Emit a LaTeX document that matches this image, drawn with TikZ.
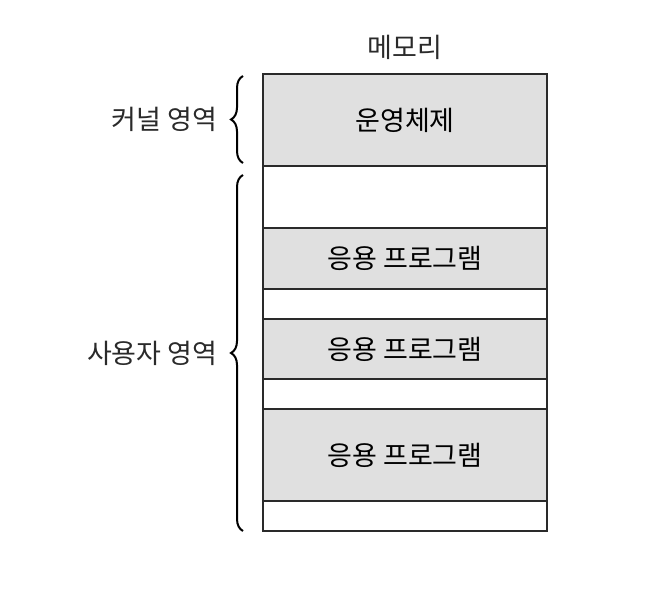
\documentclass[tikz,border=0pt]{standalone}
\usepackage{fontspec}
\setmainfont{Noto Sans CJK KR}
\usetikzlibrary{positioning,calc,decorations.pathreplacing}
\definecolor{inkgray}{HTML}{2A2A2A}
\definecolor{memfill}{HTML}{E0E0E0}

\begin{document}
\begin{tikzpicture}[
  font=\fontsize{13.5}{15}\selectfont,
  row/.style={draw=inkgray, line width=0.9pt, minimum width=142pt,
              inner sep=0pt, outer sep=0pt, fill=white},
  used/.style={row, fill=memfill},
  brc/.style={decorate, decoration={brace, amplitude=6pt}, draw=black, line width=1pt},
  lbl/.style={text=inkgray},
  node distance=0pt]

\useasboundingbox (0,0) rectangle (336pt,-296pt);

% memory title
\node[lbl] (title) at (202.5pt,-23.5pt) {메모리};

% memory rows
\node[used, minimum height=46pt, anchor=north] (os) at (202.5pt,-37pt) {운영체제};
\node[row, minimum height=31pt, below=of os] (free1) {};
\node[used, minimum height=30.5pt, below=of free1] (app1) {응용 프로그램};
\node[row, minimum height=15pt, below=of app1] (free2) {};
\node[used, minimum height=30pt, below=of free2] (app2) {응용 프로그램};
\node[row, minimum height=15pt, below=of app2] (free3) {};
\node[used, minimum height=46pt, below=of free3] (app3) {응용 프로그램};
\node[row, minimum height=15pt, below=of app3] (free4) {};

% braces
\draw[brc] ($(os.south west)+(-10pt,1.5pt)$) -- ($(os.north west)+(-10pt,-1pt)$)
  node[lbl, midway, left=9pt] (kernel) {커널 영역};
\draw[brc] ($(free4.south west)+(-10pt,0pt)$) -- ($(free1.north west)+(-10pt,-4.5pt)$)
  node[lbl, midway, left=9pt] (user) {사용자 영역};
\end{tikzpicture}
\end{document}
